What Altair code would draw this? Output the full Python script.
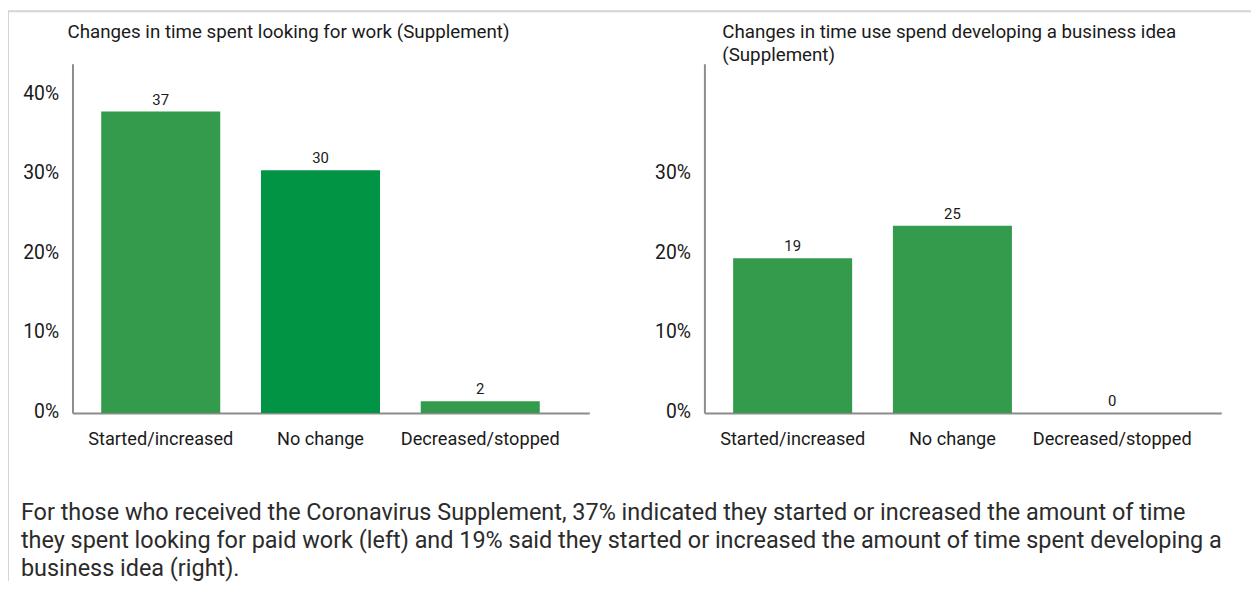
import altair as alt
import pandas as pd

categories = ["Started/increased", "No change", "Decreased/stopped"]

left_values = [38.0, 30.6, 1.5]
left_labels = ["37", "30", "2"]
left_colors = ["#349b4d", "#009444", "#349b4d"]
left_ticks = [0, 10, 20, 30, 40]
left_title = ["Changes in time spent looking for work (Supplement)"]

right_values = [19.5, 23.6, 0.0]
right_labels = ["19", "25", "0"]
right_colors = ["#349b4d", "#349b4d", "#349b4d"]
right_ticks = [0, 10, 20, 30]
right_title = ["Changes in time use spend developing a business idea", "(Supplement)"]

caption_lines = [
    "For those who received the Coronavirus Supplement, 37% indicated they started or increased the amount of time",
    "they spent looking for paid work (left) and 19% said they started or increased the amount of time spent developing a",
    "business idea (right).",
]

FONT = "Roboto"
TXT = "#1a1a1a"
AXIS = "#8c8c8c"
BORDER = "#d4d4d4"
PW, PH = 521, 352


def panel(values, labels, colors, ticks, title_lines, title_dx, borders=False):
    df = pd.DataFrame({"cat": categories, "val": values, "lab": labels, "col": colors})
    x = alt.X(
        "cat:N", sort=categories, title=None,
        scale=alt.Scale(paddingInner=0.255, paddingOuter=0.245, align=0.367),
        axis=alt.Axis(labelAngle=0, labelFontSize=18.3, labelFont=FONT, labelColor=TXT,
                      labelPadding=18, ticks=False, domainColor=AXIS, domainWidth=2),
    )
    y = alt.Y(
        "val:Q", title=None, scale=alt.Scale(domain=[0, 44], nice=False),
        axis=alt.Axis(values=ticks, labelExpr="datum.value + '%'", grid=False, ticks=False,
                      labelPadding=14, labelFontSize=19.5, labelFont=FONT, labelColor=TXT,
                      domainColor=AXIS, domainWidth=2, labelOffset=-2),
    )
    bars = alt.Chart(df).mark_bar().encode(x=x, y=y, color=alt.Color("col:N", scale=None))
    text = alt.Chart(df).mark_text(baseline="bottom", dy=-4, fontSize=15, font=FONT, color=TXT).encode(
        x=alt.X("cat:N", sort=categories), y="val:Q", text="lab:N")
    one = pd.DataFrame({"a": [0]})
    title = alt.Chart(one).mark_text(
        text=title_lines, align="left", baseline="middle", lineHeight=23,
        fontSize=18.9, font=FONT, color=TXT).encode(x=alt.value(title_dx), y=alt.value(-32))
    layers = [bars, text, title]
    if borders:
        top = alt.Chart(one).mark_rule(color=BORDER, strokeWidth=2).encode(
            x=alt.value(-66), x2=alt.value(1188), y=alt.value(-53))
        left = alt.Chart(one).mark_rule(color=BORDER, strokeWidth=2).encode(
            x=alt.value(-65), y=alt.value(-53), y2=alt.value(521))
        layers = [top, left] + layers
    return alt.layer(*layers).properties(width=PW, height=PH)


left_chart = panel(left_values, left_labels, left_colors, left_ticks, left_title, -5, borders=True)
right_chart = panel(right_values, right_labels, right_colors, right_ticks, right_title, 18)

cap_df = pd.DataFrame({"i": list(range(len(caption_lines))), "t": caption_lines})
caption = alt.Chart(cap_df).mark_text(
    align="left", baseline="middle", fontSize=23.6, font=FONT, color="#2b2b2b").encode(
    x=alt.value(-52), y=alt.Y("i:O", axis=None), text="t:N").properties(width=PW, height=84)

chart = alt.concat(
    left_chart, right_chart, caption,
    columns=2,
    spacing=alt.RowColnumber(row=87, column=116),
    bounds="flush",
).properties(padding={"left": -2, "top": 0, "right": 0, "bottom": 0}).configure(
    background="white").configure_view(stroke="transparent", strokeWidth=0)

chart.save("out.html", embed_options={"renderer": "svg", "actions": False})
